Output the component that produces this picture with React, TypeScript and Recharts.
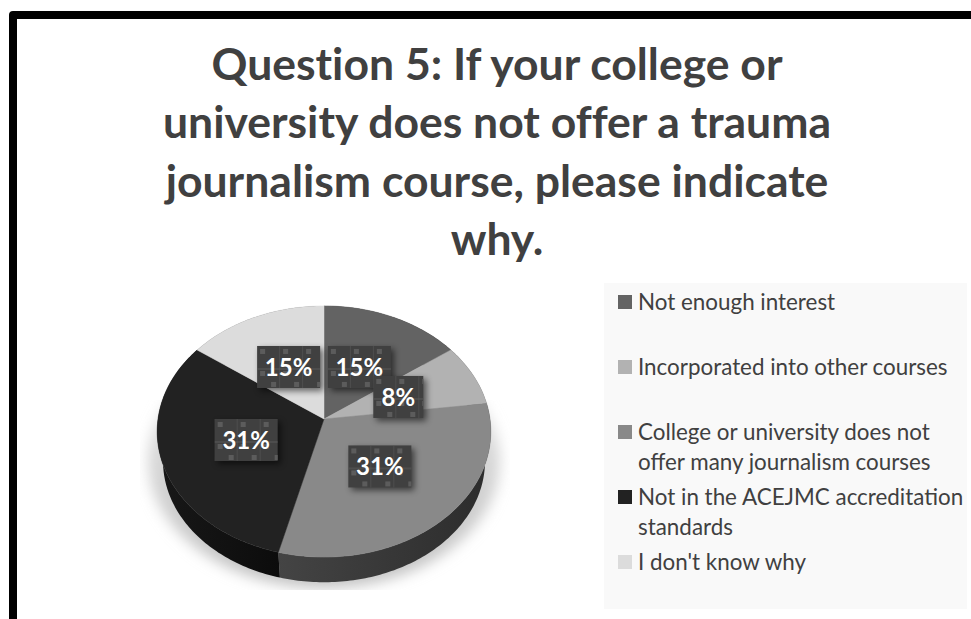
import React from "react";
import { PieChart, Pie, Legend } from "recharts";

const categories = [
  "Not enough interest",
  "Incorporated into other courses",
  "College or university does not offer many journalism courses",
  "Not in the ACEJMC accreditation standards",
  "I don't know why",
];
const shares = [15, 8, 31, 31, 15];
const topFills = ["#636363", "#b2b2b2", "#898989", "#222222", "#dcdcdc"];
const wallFills = ["#2c2c2c", "#3a3a3a", "url(#wallGrey)", "url(#wallBlack)", "#555555"];
const titleLines = [
  "Question 5: If your college or",
  "university does not offer a trauma",
  "journalism course, please indicate",
  "why.",
];

const slices = categories.map((name, i) => ({ name, value: shares[i], fill: topFills[i], wall: wallFills[i] }));

// Tilted-disc projection of the unit circle onto the page.
const TILT = 0.0996;
const SQUASH = 0.749;
const WALL_DROP = 30;
const WALL_SHRINK = 0.965;
const RAD = Math.PI / 180;

function project(cx: number, cy: number, R: number, deg: number, r = 1, shrink = 1, drop = 0) {
  const u = Math.cos(deg * RAD) * r;
  const v = Math.sin(deg * RAD) * r;
  const d = 1 + TILT * v;
  return [cx + (shrink * R * u) / d, cy + drop - (shrink * R * SQUASH * v) / d];
}

function arcPoints(p: any, shrink = 1, drop = 0) {
  const pts: number[][] = [];
  const n = Math.max(2, Math.ceil(Math.abs(p.endAngle - p.startAngle)));
  for (let i = 0; i <= n; i++) {
    const a = p.startAngle + ((p.endAngle - p.startAngle) * i) / n;
    pts.push(project(p.cx, p.cy, p.outerRadius, a, 1, shrink, drop));
  }
  return pts;
}

const toPath = (pts: number[][]) => pts.map((q, i) => `${i ? "L" : "M"}${q[0].toFixed(2)} ${q[1].toFixed(2)}`).join(" ");

function TopFace(p: any) {
  const d = `M${p.cx} ${p.cy} ${toPath(arcPoints(p)).replace("M", "L")} Z`;
  return <path d={d} fill={p.fill} stroke={p.fill} strokeWidth={0.5} />;
}

function WallFace(p: any) {
  const upper = arcPoints(p);
  const lower = arcPoints(p, WALL_SHRINK, WALL_DROP).reverse();
  return <path d={`${toPath(upper)} ${toPath(lower).replace("M", "L")} Z`} fill={p.payload?.wall ?? p.wall} />;
}

function ValueTag(p: any) {
  const [x, y] = project(p.cx, p.cy, p.outerRadius, p.midAngle, 0.49);
  const text = `${p.value}%`;
  const w = text.length > 2 ? 63 : 50;
  const h = 42;
  return (
    <g>
      <rect x={x - w / 2} y={y - h / 2} width={w} height={h} fill="#000" opacity={0.55} filter="url(#tagShadow)" transform="translate(3 3)" />
      <g transform={`translate(${x - w / 2} ${y - h / 2})`}>
        <rect width={w} height={h} fill="#404040" />
        <rect width={w} height={h} fill="url(#tagTexture)" />
        <text x={w / 2} y={h / 2 + 9} textAnchor="middle" fontFamily="Lato" fontWeight={700} fontSize={24} fill="#fff">
          {text}
        </text>
      </g>
    </g>
  );
}

function KeyList({ payload }: any) {
  const items = (payload ?? []).filter((e: any) => e.type !== "none");
  return (
    <div style={{ width: 363, height: 326, background: "#f9f9f9", boxSizing: "border-box", paddingTop: 4, paddingLeft: 14 }}>
      {items.map((e: any) => (
        <div key={e.value} style={{ height: 65, display: "flex", alignItems: "flex-start" }}>
          <span style={{ width: 14, height: 14, marginTop: 8, marginRight: 6, background: e.color, flex: "none" }} />
          <span style={{ width: 332, flex: "none", fontFamily: "Lato", fontSize: 22.4, lineHeight: "29.5px", color: "#404040" }}>{e.value}</span>
        </div>
      ))}
    </div>
  );
}

export default function App() {
  return (
    <div style={{ position: "fixed", left: 0, top: 0, width: 971, height: 619, overflow: "hidden", background: "#fff" }}>
      <div style={{ position: "absolute", left: 9, top: 11, width: 1000, height: 700, border: "8px solid #000", borderRadius: 4, boxSizing: "border-box" }} />
      <div style={{ position: "absolute", left: 0, top: 34, width: 994, textAlign: "center", fontFamily: "Lato", fontWeight: 700, fontSize: 44.5, lineHeight: "58.3px", color: "#404040", fontVariantLigatures: "none" }}>
        {titleLines.map((t) => (
          <div key={t}>{t}</div>
        ))}
      </div>
      <div style={{ position: "absolute", left: 0, top: 0 }}>
        <PieChart width={971} height={619} margin={{ top: 0, right: 0, bottom: 0, left: 0 }}>
          <defs>
            <linearGradient id="wallGrey" x1="0" x2="1" y1="0" y2="0">
              <stop offset="0" stopColor="#444" />
              <stop offset="1" stopColor="#2c2c2c" />
            </linearGradient>
            <linearGradient id="wallBlack" x1="0" x2="1" y1="0" y2="0">
              <stop offset="0" stopColor="#181818" />
              <stop offset="1" stopColor="#0c0c0c" />
            </linearGradient>
            <linearGradient id="floorFade" x1="0" x2="0" y1="0" y2="1">
              <stop offset="0" stopColor="#d8d8d8" stopOpacity={0} />
              <stop offset="0.45" stopColor="#d4d4d4" stopOpacity={0.9} />
              <stop offset="1" stopColor="#c0c0c0" />
            </linearGradient>
            <filter id="floorBlur" x="-20%" y="-20%" width="140%" height="140%">
              <feGaussianBlur stdDeviation="7" />
            </filter>
            <filter id="tagShadow" x="-30%" y="-30%" width="160%" height="160%">
              <feGaussianBlur stdDeviation="3" />
            </filter>
            <clipPath id="floorClip">
              <rect x={140} y={400} width={370} height={190} />
            </clipPath>
            <pattern id="tagTexture" width={23} height={42} patternUnits="userSpaceOnUse">
              <path d="M23 0V42M0 23H23" stroke="#5a5a5a" strokeWidth={1} fill="none" />
              <rect x={3} y={3} width={5} height={5} fill="#5c5c5c" />
              <rect x={3} y={25} width={5} height={5} fill="#5c5c5c" />
              <rect x={14} y={36} width={5} height={5} fill="#5c5c5c" />
            </pattern>
          </defs>
          <g clipPath="url(#floorClip)">
            <ellipse cx={324} cy={460} rx={176} ry={128} fill="url(#floorFade)" filter="url(#floorBlur)" />
          </g>
          <Pie
            data={slices}
            dataKey="value"
            nameKey="name"
            cx={324}
            cy={419}
            outerRadius={166}
            startAngle={90}
            endAngle={-270}
            legendType="none"
            shape={WallFace}
            isAnimationActive={false}
          />
          <Pie
            data={slices}
            dataKey="value"
            nameKey="name"
            cx={324}
            cy={419}
            outerRadius={166}
            startAngle={90}
            endAngle={-270}
            shape={TopFace}
            label={ValueTag}
            labelLine={false}
            isAnimationActive={false}
          />
          <Legend content={KeyList} itemSorter={null} wrapperStyle={{ position: "absolute", left: 604, top: 283, width: 363, height: 326 }} />
        </PieChart>
      </div>
    </div>
  );
}
